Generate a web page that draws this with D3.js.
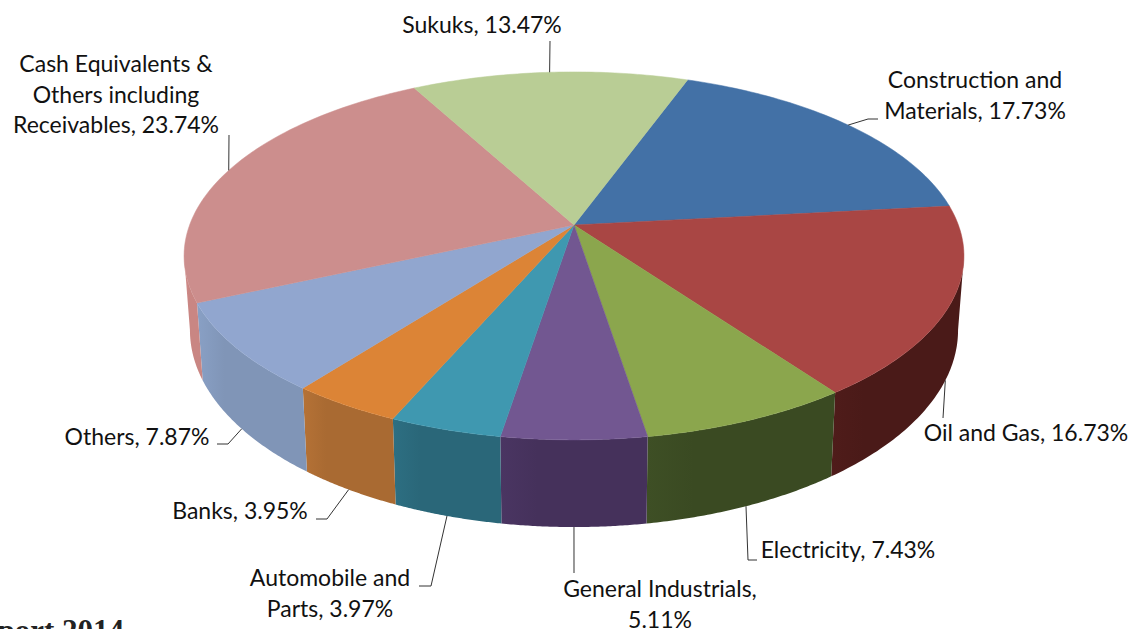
<!DOCTYPE html>
<html>
<head>
<meta charset="utf-8">
<script src="https://d3js.org/d3.v7.min.js"></script>
<style>
  html, body { margin: 0; padding: 0; background: #fff; overflow: hidden; }
  svg { display: block; }
  .label { font-family: Lato, "Open Sans", sans-serif; font-size: 23px; fill: #111; }
  .leader { fill: none; stroke: #333; stroke-width: 1; }
  .caption { font-family: "Liberation Serif", serif; font-weight: bold; font-size: 31px; fill: #222; }
</style>
</head>
<body>
<div id="canvas"></div>
<script>
// DATA
const categories = ["Construction and Materials", "Oil and Gas", "Electricity", "General Industrials",
  "Automobile and Parts", "Banks", "Others", "Cash Equivalents & Others including Receivables", "Sukuks"];
const shares = [17.73, 16.73, 7.43, 5.11, 3.97, 3.95, 7.87, 23.74, 13.47];
const labelLines = [
  ["Construction and", "Materials, 17.73%"],
  ["Oil and Gas, 16.73%"],
  ["Electricity, 7.43%"],
  ["General Industrials,", "5.11%"],
  ["Automobile and", "Parts, 3.97%"],
  ["Banks, 3.95%"],
  ["Others, 7.87%"],
  ["Cash Equivalents &", "Others including", "Receivables, 23.74%"],
  ["Sukuks, 13.47%"]
];
const topColors = ["#4371a6", "#a94644", "#8ba64d", "#725791", "#3f98b0", "#dc8436", "#91a6cf", "#cc8e8d", "#b9cd95"];
const sideColors = ["#2c4a6e", "#4a1a18", "#3a4a22", "#45315b", "#2a6779", "#a96a32", "#8095b7", "#c98683", "#8a9a70"];

// DIMENSIONS
const width = 1131;
const height = 629;

// label anchor and leader elbows, one row per category
const labelPos = [
  { x: 975, y: 88, elbow: [[868, 119], [878, 119]] },
  { x: 1026, y: 441, elbow: [[943, 418]] },
  { x: 848, y: 558, elbow: [[748, 560], [757, 560]] },
  { x: 660, y: 597, elbow: [[574, 573]] },
  { x: 330, y: 586, elbow: [[431, 586], [419, 586]] },
  { x: 240, y: 519, elbow: [[327, 519], [316, 519]] },
  { x: 137, y: 445, elbow: [[228, 444], [217, 444]] },
  { x: 116, y: 72, elbow: [[229, 135]] },
  { x: 482, y: 33, elbow: [[550, 41]] }
];
const lineHeight = 30.7;

// CANVAS
const canvas = d3.select("#canvas")
  .append("svg")
  .attr("width", width)
  .attr("height", height)
  .style("background", "#fff");

// PROJECTION
// the disc is drawn in perspective, so the apex sits above the middle of the ellipse
const cx = 574;
const k = 0.168;
const topRing = { a: 384.4, b: 178.8, cy: 225 };
const bottomRing = { a: 378.6, b: 191.4, cy: 297 };

function project(ring, angle) {
  const u = Math.sin(angle);
  const v = Math.cos(angle);
  const w = 1 + k * v;
  return [cx + ring.a * u / w, ring.cy - ring.b * v / w];
}

// rim tangent points, only the part between them faces the viewer
const rimStart = Math.acos(-k);
const rimEnd = 2 * Math.PI - rimStart;
const full = 2 * Math.PI;

function arcAngles(a0, a1) {
  return d3.range(0, 61).map(i => a0 + (a1 - a0) * i / 60);
}

// SLICES
const rows = categories.map((c, i) => ({ category: c, share: shares[i], index: i }));
const startAngle = 20 * Math.PI / 180;
const slices = d3.pie()
  .sort(null)
  .value(d => d.share)
  .startAngle(startAngle)
  .endAngle(startAngle + full)(rows);

const line = d3.line();

// side walls get a soft lighter edge on the left
const defs = canvas.append("defs");
const grads = defs.selectAll("linearGradient")
  .data(sideColors)
  .join("linearGradient")
  .attr("id", (d, i) => `side${i}`);
grads.append("stop").attr("offset", "0%").attr("stop-color", d => d3.color(d).brighter(0.2));
grads.append("stop").attr("offset", "25%").attr("stop-color", d => d);
grads.append("stop").attr("offset", "100%").attr("stop-color", d => d);

// 1. Side walls
canvas.selectAll("path.side")
  .data(slices.filter(d => d.startAngle < rimEnd && d.endAngle > rimStart))
  .join("path")
  .attr("class", "side")
  .attr("d", d => {
    const angles = arcAngles(Math.max(d.startAngle, rimStart), Math.min(d.endAngle, rimEnd));
    const upper = angles.map(a => project(topRing, a));
    const lower = angles.slice().reverse().map(a => project(bottomRing, a));
    return line(upper.concat(lower)) + "Z";
  })
  .style("fill", d => `url(#side${d.index})`);

// 2. Top face
canvas.selectAll("path.top")
  .data(slices)
  .join("path")
  .attr("class", "top")
  .attr("d", d => {
    const rim = arcAngles(d.startAngle, d.endAngle).map(a => project(topRing, a));
    return line([[cx, topRing.cy]].concat(rim)) + "Z";
  })
  .style("fill", d => topColors[d.index])
  .style("stroke", d => topColors[d.index])
  .style("stroke-width", 0.5);

// LEADERS
canvas.selectAll("path.leader")
  .data(slices)
  .join("path")
  .attr("class", "leader")
  .attr("d", d => {
    const mid = (d.startAngle + d.endAngle) / 2;
    const onFront = mid > rimStart && mid < rimEnd;
    const start = project(onFront ? bottomRing : topRing, mid);
    return line([start].concat(labelPos[d.index].elbow));
  });

// LABELS
canvas.selectAll("text.label")
  .data(slices)
  .join("text")
  .attr("class", "label")
  .attr("text-anchor", "middle")
  .attr("x", d => labelPos[d.index].x)
  .attr("y", d => labelPos[d.index].y)
  .selectAll("tspan")
  .data(d => labelLines[d.index].map(t => ({ t: t, x: labelPos[d.index].x })))
  .join("tspan")
  .attr("x", d => d.x)
  .attr("dy", (d, i) => i === 0 ? 0 : lineHeight)
  .text(d => d.t);

// text cut off by the bottom of the page, as in the source
canvas.append("text")
  .attr("class", "caption")
  .attr("text-anchor", "end")
  .attr("x", 124)
  .attr("y", 641)
  .text("Report 2014");
</script>
</body>
</html>
